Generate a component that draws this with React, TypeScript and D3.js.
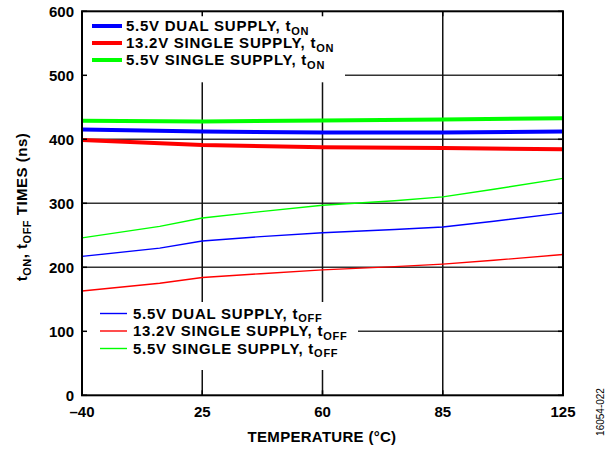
import React from "react";
import * as d3 from "d3";

const temps = [-40, 25, 60, 85, 125];
const tickLabels = ["–40", "25", "60", "85", "125"];
const yTicks = [0, 100, 200, 300, 400, 500, 600];

const onTemps = [-40, 25, 60, 85, 125];
const dualOn = [415.5, 412, 410.5, 410.5, 412];
const single132On = [399, 391, 387.5, 386.5, 384.5];
const single55On = [429, 428, 429.5, 431, 433];

const offTemps = [-40, 2, 25, 42, 60, 75, 85, 102, 125];
const dualOff = [217, 230, 241, 248, 254, 259, 263, 272, 285];
const single132Off = [163, 175, 184, 190, 196, 201, 205, 211, 220];
const single55Off = [246, 264, 277, 287, 297, 304, 310, 322, 339];

const onLegend = ["5.5V DUAL SUPPLY, t", "13.2V SINGLE SUPPLY, t", "5.5V SINGLE SUPPLY, t"];
const offLegend = ["5.5V DUAL SUPPLY, t", "13.2V SINGLE SUPPLY, t", "5.5V SINGLE SUPPLY, t"];
const colors = ["#0000ff", "#ff0000", "#00ff00"];

const W = 613, H = 450;
const L = 82, R = 563, T = 11.3, B = 395.3;
const FONT = "'Liberation Sans', Arial, Helvetica, sans-serif";

export default function App() {
  const x = d3
    .scaleLinear()
    .domain(temps)
    .range(temps.map((_, i) => L + (i * (R - L)) / (temps.length - 1)));
  const y = d3.scaleLinear().domain([0, 600]).range([B, T]);

  const line = (ts: number[], vs: number[]) =>
    d3
      .line<number>()
      .x((_, i) => x(ts[i]))
      .y((v) => y(v))(vs) || "";

  const onSeries = [dualOn, single132On, single55On];
  const offSeries = [dualOff, single132Off, single55Off];

  return (
    <svg
      width={W}
      height={H}
      style={{ position: "absolute", left: 0, top: 0, background: "#fff" }}
      fontFamily={FONT}
    >
      <rect x={0} y={0} width={W} height={H} fill="#fff" />
      {/* gridlines */}
      {yTicks.slice(1, -1).map((v) => (
        <line key={"gy" + v} x1={L} x2={R} y1={y(v)} y2={y(v)} stroke="#333" strokeWidth={1.5} />
      ))}
      {temps.slice(1, -1).map((t) => (
        <line key={"gx" + t} x1={x(t)} x2={x(t)} y1={T} y2={B} stroke="#111" strokeWidth={1.5} />
      ))}
      {/* data */}
      {offSeries.map((s, i) => (
        <path key={"off" + i} d={line(offTemps, s)} fill="none" stroke={colors[i]} strokeWidth={1.4} />
      ))}
      {onSeries.map((s, i) => (
        <path key={"on" + i} d={line(onTemps, s)} fill="none" stroke={colors[i]} strokeWidth={4} />
      ))}
      {/* legend boxes */}
      <rect x={L} y={T} width={263} height={71} fill="#fff" />
      <rect x={L} y={302} width={276} height={68} fill="#fff" />
      {onLegend.map((txt, i) => {
        const cy = 26 + i * 17;
        return (
          <g key={"lo" + i}>
            <line x1={92} x2={122} y1={cy} y2={cy} stroke={colors[i]} strokeWidth={4} />
            <text x={126} y={cy + 5.3} fontSize={15} fontWeight="bold" letterSpacing={0.75}>
              {txt}
              <tspan fontSize={11} dy={3.5}>ON</tspan>
            </text>
          </g>
        );
      })}
      {offLegend.map((txt, i) => {
        const cy = 313.5 + i * 17.5;
        return (
          <g key={"lf" + i}>
            <line x1={100} x2={127} y1={cy} y2={cy} stroke={colors[i]} strokeWidth={1.4} />
            <text x={133} y={cy + 5.3} fontSize={15} fontWeight="bold" letterSpacing={0.75}>
              {txt}
              <tspan fontSize={11} dy={3.5}>OFF</tspan>
            </text>
          </g>
        );
      })}
      {/* ticks */}
      {yTicks.map((v) => (
        <g key={"ty" + v}>
          <line x1={L} x2={L + 5} y1={y(v)} y2={y(v)} stroke="#000" strokeWidth={1.5} />
          <line x1={R} x2={R - 5} y1={y(v)} y2={y(v)} stroke="#000" strokeWidth={1.5} />
          <text x={74} y={y(v) + 5.3} fontSize={15} fontWeight="bold" textAnchor="end">
            {v}
          </text>
        </g>
      ))}
      {temps.map((t, i) => (
        <g key={"tx" + t}>
          <line x1={x(t)} x2={x(t)} y1={T} y2={T + 5} stroke="#000" strokeWidth={1.5} />
          <line x1={x(t)} x2={x(t)} y1={B} y2={B - 5} stroke="#000" strokeWidth={1.5} />
          <text x={x(t)} y={417} fontSize={15} fontWeight="bold" textAnchor="middle">
            {tickLabels[i]}
          </text>
        </g>
      ))}
      {/* frame */}
      <rect x={L} y={T} width={R - L} height={B - T} fill="none" stroke="#000" strokeWidth={2} />
      {/* axis titles */}
      <text x={322} y={442} fontSize={15} fontWeight="bold" textAnchor="middle" letterSpacing={0.3}>
        TEMPERATURE (°C)
      </text>
      <text
        transform="translate(27,207) rotate(-90)"
        fontSize={15}
        fontWeight="bold"
        textAnchor="middle"
        letterSpacing={0.5}
      >
        t<tspan fontSize={11} dy={3.5}>ON</tspan>
        <tspan dy={-3.5}>, t</tspan>
        <tspan fontSize={11} dy={3.5}>OFF</tspan>
        <tspan dy={-3.5}> TIMES (ns)</tspan>
      </text>
      <text transform="translate(604,412) rotate(-90)" fontSize={10} textAnchor="middle">
        16054-022
      </text>
    </svg>
  );
}
